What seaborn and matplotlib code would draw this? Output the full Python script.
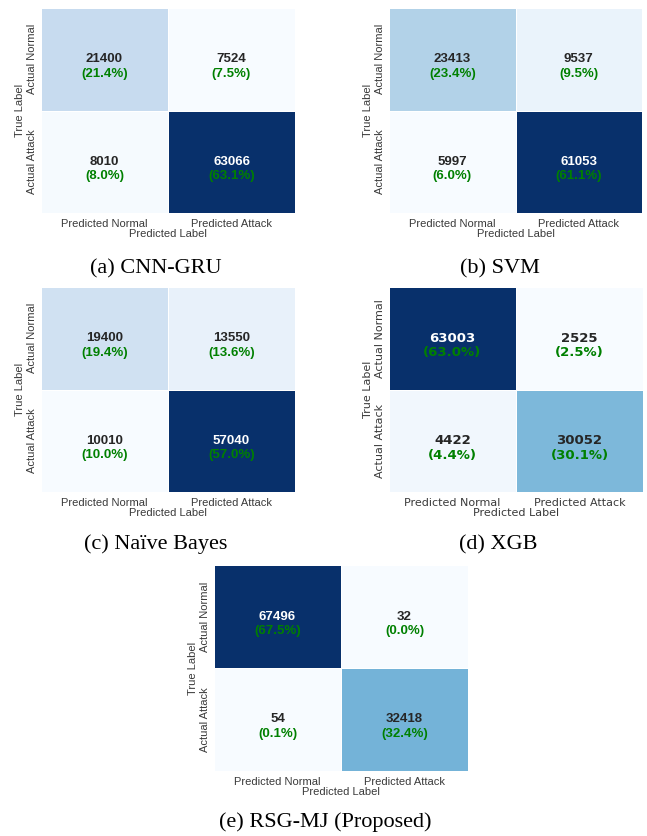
import numpy as np
import matplotlib
matplotlib.use("Agg")
import matplotlib.pyplot as plt
import seaborn as sns

# ---- data ----
x_labels = ["Predicted Normal", "Predicted Attack"]
y_labels = ["Actual Normal", "Actual Attack"]

cnn_gru = [[21400, 7524], [8010, 63066]]
svm = [[23413, 9537], [5997, 61053]]
naive_bayes = [[19400, 13550], [10010, 57040]]
xgb = [[63003, 2525], [4422, 30052]]
rsg_mj = [[67496, 32], [54, 32418]]

captions = ["(a) CNN-GRU", "(b) SVM", "(c) Naïve Bayes", "(d) XGB", "(e) RSG-MJ (Proposed)"]

sns.set_theme(style="white")
plt.rcParams["font.family"] = ["Liberation Sans", "DejaVu Sans"]

W, H = 647, 836
fig = plt.figure(figsize=(W / 100, H / 100), dpi=100)

# (left, top, right, bottom) in pixels, font family, caption center x, caption baseline y
panels = [
    (cnn_gru, (41, 8, 295, 213), "Liberation Sans", 156, 273),
    (svm, (389, 8, 642, 213), "Liberation Sans", 500, 273),
    (naive_bayes, (41, 287, 295, 492), "Liberation Sans", 156, 549),
    (xgb, (389, 287, 643, 492), "DejaVu Sans", 498, 549),
    (rsg_mj, (214, 565, 468, 771), "Liberation Sans", 325, 827),
]

for (cm, (l, t, r, b), fam, cx, cy), cap in zip(panels, captions):
    cm = np.array(cm)
    ax = fig.add_axes([l / W, 1 - b / H, (r - l) / W, (b - t) / H])
    total = cm.sum()
    sns.heatmap(cm, ax=ax, cmap="Blues", cbar=False, annot=True, fmt="d",
                annot_kws={"weight": "bold", "size": 9.5, "family": fam},
                linewidths=0.5, linecolor="white",
                xticklabels=x_labels, yticklabels=y_labels)
    for i in range(2):
        for j in range(2):
            ax.text(j + 0.5, i + 0.64, f"({cm[i, j] / total * 100:.1f}%)",
                    ha="center", va="center", color="green",
                    fontsize=9.5, fontweight="bold", family=fam)
    ax.tick_params(axis="both", length=2, width=0.5, color="#cccccc",
                   labelsize=8, labelcolor="#3a3a3a")
    ax.tick_params(axis="x", pad=2)
    ax.tick_params(axis="y", pad=1)
    for lab in ax.get_xticklabels():
        lab.set_family(fam)
        lab.set_rotation(0)
    for lab in ax.get_yticklabels():
        lab.set_family(fam)
        lab.set_rotation(90)
        lab.set_va("center")
    ax.set_xlabel("Predicted Label", fontsize=8, color="#3a3a3a", family=fam, labelpad=0)
    ax.set_ylabel("True Label", fontsize=8, color="#3a3a3a", family=fam, labelpad=1)
    fig.text(cx / W, 1 - cy / H, cap, ha="center", va="baseline",
             fontsize=16, family="Liberation Serif", color="black")

fig.savefig("out.png", dpi=100)
